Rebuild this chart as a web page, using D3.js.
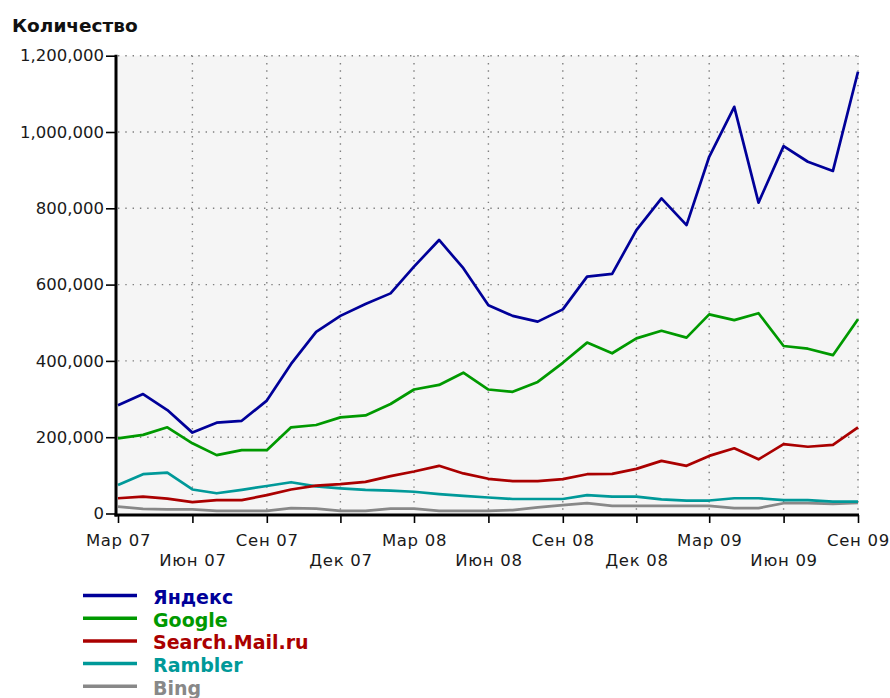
<!DOCTYPE html>
<html><head><meta charset="utf-8">
<script src="https://cdn.jsdelivr.net/npm/d3@7/dist/d3.min.js"></script>
<style>body{margin:0;background:#fff} svg{display:block}</style>
</head><body>
<svg id="c" width="890" height="698"></svg>
<script>
const months = ["2007-03","2007-04","2007-05","2007-06","2007-07","2007-08","2007-09","2007-10","2007-11","2007-12",
  "2008-01","2008-02","2008-03","2008-04","2008-05","2008-06","2008-07","2008-08","2008-09","2008-10","2008-11","2008-12",
  "2009-01","2009-02","2009-03","2009-04","2009-05","2009-06","2009-07","2009-08","2009-09"];
const yandex = [284000,313000,271000,212000,238000,243000,296000,392000,476000,518000,549000,577000,647000,717000,643000,546000,
  518000,503000,535000,621000,628000,743000,826000,756000,935000,1066000,815000,963000,922000,898000,1158000];
const google = [197000,206000,226000,184000,153000,166000,166000,226000,232000,252000,257000,287000,325000,337000,369000,325000,
  319000,345000,395000,448000,420000,459000,479000,461000,522000,507000,525000,439000,432000,415000,509000];
const mail = [40000,44000,39000,30000,35000,35000,48000,63000,73000,77000,83000,98000,110000,125000,105000,91000,
  85000,85000,90000,103000,104000,117000,138000,125000,151000,171000,142000,182000,175000,180000,226000];
const rambler = [75000,103000,107000,63000,53000,62000,72000,82000,71000,66000,62000,60000,57000,51000,46000,42000,
  38000,38000,38000,48000,44000,44000,37000,34000,34000,40000,40000,35000,35000,31000,31000];
const bing = [18000,12000,11000,11000,7000,7000,7000,14000,13000,7000,7000,13000,13000,7000,7000,7000,
  9000,16000,22000,27000,20000,20000,20000,20000,20000,14000,14000,27000,27000,25000,28000];
const seriesNames = ["Яндекс","Google","Search.Mail.ru","Rambler","Bing"];
const seriesColors = ["#000099","#009900","#aa0000","#009999","#888888"];
const tickMonths = ["2007-03","2007-06","2007-09","2007-12","2008-03","2008-06","2008-09","2008-12","2009-03","2009-06","2009-09"];
const tickLabels = ["Мар 07","Июн 07","Сен 07","Дек 07","Мар 08","Июн 08","Сен 08","Дек 08","Мар 09","Июн 09","Сен 09"];
const yTicks = [0,200000,400000,600000,800000,1000000,1200000];
const yTitle = "Количество";

const parse = d3.timeParse("%Y-%m");
const dates = months.map(parse);
const tickDates = tickMonths.map(parse);
const allSeries = [yandex, google, mail, rambler, bing];

const svg = d3.select("#c");
const x = d3.scaleTime().domain([dates[0], dates[dates.length-1]]).range([118, 858]);
const y = d3.scaleLinear().domain([0, 1200000]).range([513.5, 55.7]);
const x0 = 116, y0 = 515;

// plot background
svg.append("rect").attr("x", x0).attr("y", y(1200000)).attr("width", 859 - x0).attr("height", y0 - y(1200000))
  .attr("fill", "#f5f5f5");

// grid
const grid = svg.append("g").attr("stroke", "#808080").attr("stroke-width", 1.4).attr("stroke-dasharray", "1.4 5.9");
grid.selectAll(".h").data(yTicks.slice(1)).join("line")
  .attr("x1", x0 + 2).attr("x2", 858).attr("y1", d => y(d)).attr("y2", d => y(d));
grid.selectAll(".v").data(tickDates.slice(1)).join("line")
  .attr("x1", d => x(d)).attr("x2", d => x(d)).attr("y1", y(1200000)).attr("y2", y0 - 2);

// lines
const line = d3.line().x((d, i) => x(dates[i])).y(d => y(d));
[4,3,2,1,0].forEach(k => {
  svg.append("path").datum(allSeries[k]).attr("fill", "none").attr("stroke", seriesColors[k])
    .attr("stroke-width", 2.7).attr("stroke-linejoin", "round").attr("d", line);
});

// y axis
const yAx = svg.append("g").attr("transform", `translate(${x0},0)`)
  .call(d3.axisLeft(y).tickValues(yTicks).tickFormat(d3.format(",")).tickSize(10).tickSizeOuter(0));
yAx.select(".domain").remove();
yAx.selectAll(".tick line").attr("stroke", "#000").attr("stroke-width", 1.6);
yAx.selectAll(".tick text").attr("x", -12).attr("font-family", "DejaVu Sans").attr("font-size", "16.5px").attr("fill", "#1a1a1a");

// x axis
const xAx = svg.append("g").attr("transform", `translate(0,${y0})`)
  .call(d3.axisBottom(x).tickValues(tickDates).tickFormat((d, i) => tickLabels[i]).tickSize(8).tickSizeOuter(0));
xAx.select(".domain").remove();
xAx.selectAll(".tick line").attr("stroke", "#000").attr("stroke-width", 1.6);
xAx.selectAll(".tick text").attr("y", (d, i) => i % 2 ? 51 : 31).attr("dy", 0)
  .attr("font-family", "DejaVu Sans").attr("font-size", "16.5px").attr("letter-spacing", "0.7px").attr("fill", "#1a1a1a");

// axis lines
svg.append("line").attr("x1", x0).attr("x2", x0).attr("y1", y(1200000) - 1).attr("y2", y0 + 1.5)
  .attr("stroke", "#000").attr("stroke-width", 3);
svg.append("line").attr("x1", x0 - 1.5).attr("x2", 859).attr("y1", y0).attr("y2", y0)
  .attr("stroke", "#000").attr("stroke-width", 3);

// title
svg.append("text").attr("x", 12).attr("y", 32).text(yTitle)
  .attr("font-family", "DejaVu Sans").attr("font-weight", "bold").attr("font-size", "18.5px").attr("fill", "#111");

// legend
const lg = svg.append("g");
seriesNames.forEach((n, i) => {
  const by = 604 + i * 22.7;
  lg.append("line").attr("x1", 83).attr("x2", 137).attr("y1", by - 8.5).attr("y2", by - 8.5)
    .attr("stroke", seriesColors[i]).attr("stroke-width", 3.5);
  lg.append("text").attr("x", 153).attr("y", by).text(n).attr("fill", seriesColors[i])
    .attr("font-family", "DejaVu Sans").attr("font-weight", "bold").attr("font-size", "19px");
});
</script>
</body></html>
